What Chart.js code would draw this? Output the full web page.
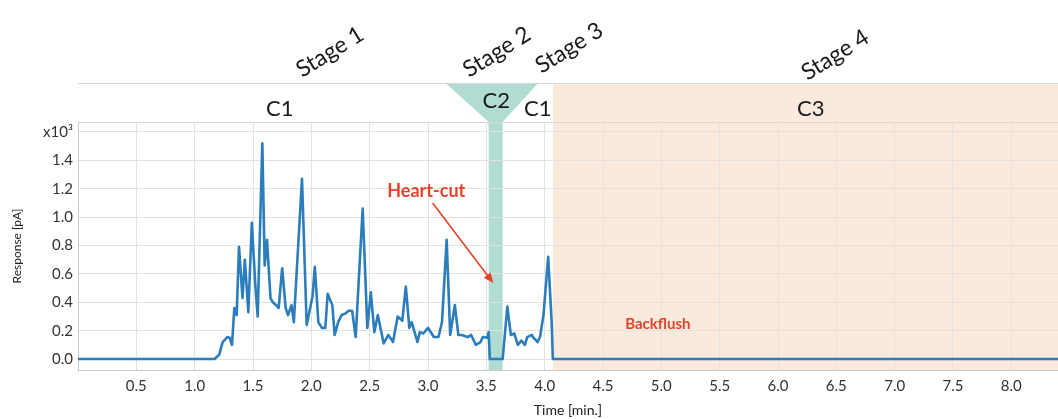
<!DOCTYPE html>
<html>
<head>
<meta charset="utf-8">
<title>Heart-cut chromatogram</title>
<script src="https://cdn.jsdelivr.net/npm/chart.js@4.4.1/dist/chart.umd.min.js"></script>
<style>
  html, body { margin: 0; padding: 0; background: #fff; }
  #wrap { width: 1058px; height: 419px; position: relative; }
</style>
</head>
<body>
<div id="wrap"><canvas id="chart"></canvas></div>
<script>
// Chromatogram: time in minutes, response in x10^3 pA
const timeMin = [
  0, 1.17, 1.21, 1.24, 1.28, 1.30, 1.32, 1.34, 1.36, 1.38,
  1.41, 1.43, 1.46, 1.49, 1.52, 1.54, 1.58, 1.60, 1.62, 1.65,
  1.67, 1.71, 1.72, 1.75, 1.78, 1.80, 1.83, 1.85, 1.92, 1.96,
  2.01, 2.03, 2.06, 2.09, 2.12, 2.14, 2.18, 2.20, 2.23, 2.26,
  2.29, 2.32, 2.35, 2.38, 2.44, 2.48, 2.51, 2.54, 2.57, 2.62,
  2.66, 2.70, 2.74, 2.78, 2.81, 2.84, 2.86, 2.91, 2.93, 2.96,
  3.00, 3.05, 3.09, 3.12, 3.16, 3.19, 3.23, 3.26, 3.29, 3.34,
  3.37, 3.41, 3.45, 3.47, 3.51, 3.52, 3.53, 3.64, 3.68, 3.71,
  3.74, 3.77, 3.80, 3.83, 3.85, 3.89, 3.90, 3.94, 3.96, 3.99,
  4.03, 4.06, 4.07, 8.40
];
const responseK = [
  0, 0, 0.03, 0.12, 0.155, 0.15, 0.10, 0.36, 0.31, 0.79,
  0.43, 0.70, 0.33, 0.96, 0.52, 0.30, 1.52, 0.66, 0.84, 0.43,
  0.40, 0.37, 0.36, 0.64, 0.36, 0.31, 0.38, 0.26, 1.27, 0.24,
  0.44, 0.65, 0.26, 0.22, 0.22, 0.46, 0.38, 0.17, 0.26, 0.31,
  0.32, 0.34, 0.34, 0.155, 1.06, 0.22, 0.47, 0.19, 0.31, 0.11,
  0.17, 0.12, 0.30, 0.27, 0.51, 0.22, 0.26, 0.12, 0.19, 0.18,
  0.22, 0.155, 0.155, 0.26, 0.84, 0.17, 0.38, 0.17, 0.17, 0.155,
  0.17, 0.10, 0.12, 0.155, 0.15, 0.19, 0, 0, 0.37, 0.17,
  0.18, 0.10, 0.13, 0.10, 0.155, 0.17, 0.155, 0.12, 0.155, 0.31,
  0.72, 0.26, 0, 0
];

// Axis ticks
const xTicks = [0.5, 1.0, 1.5, 2.0, 2.5, 3.0, 3.5, 4.0, 4.5, 5.0, 5.5, 6.0, 6.5, 7.0, 7.5, 8.0];
const yTicks = [0, 0.2, 0.4, 0.6, 0.8, 1.0, 1.2, 1.4, 1.6];
const yTickLabels = ['0.0', '0.2', '0.4', '0.6', '0.8', '1.0', '1.2', '1.4', 'x10³'];

// Stages and column labels
const stageNames = ['Stage 1', 'Stage 2', 'Stage 3', 'Stage 4'];
const columnNames = ['C1', 'C2', 'C1', 'C3'];
const heartCutWindow = [3.52, 3.64];
const backflushStart = 4.07;

const FONT = 'Lato, "Open Sans", sans-serif';
const RED = '#e4432b';
const HEADER_H = 39;

// Where the annotations sit (time, offset in px)
const layoutNotes = {
  stages: [[2.16, -70], [3.59, -70], [4.21, -74], [6.49, -67]],
  columns: [[1.73, -13], [3.585, -21], [3.94, -13], [6.28, -13]],
  funnelTop: [3.15, 3.945],
  heartCutText: [2.985, 1.18],
  arrow: [[3.04, 1.10], [3.56, 0.535]],
  backflushText: [4.97, 0.245]
};

const stagePlugin = {
  id: 'stages',
  beforeDraw(chart) {
    const { ctx, chartArea: a, scales: { x } } = chart;
    const head = a.top - HEADER_H;
    ctx.save();
    // stage 4 / backflush zone
    const bx = x.getPixelForValue(backflushStart);
    ctx.fillStyle = '#fbe9de';
    ctx.fillRect(bx, head, a.right - bx, a.bottom - head);
    // stage 2 heart-cut funnel into C2
    const l = x.getPixelForValue(heartCutWindow[0]);
    const r = x.getPixelForValue(heartCutWindow[1]);
    ctx.fillStyle = '#b0dcd3';
    ctx.beginPath();
    ctx.moveTo(x.getPixelForValue(layoutNotes.funnelTop[0]), head);
    ctx.lineTo(x.getPixelForValue(layoutNotes.funnelTop[1]), head);
    ctx.lineTo(r, a.top);
    ctx.lineTo(r, a.bottom);
    ctx.lineTo(l, a.bottom);
    ctx.lineTo(l, a.top);
    ctx.closePath();
    ctx.fill();
    // header rules
    ctx.strokeStyle = '#ddd5d2';
    ctx.lineWidth = 1;
    [head, a.top].forEach(y => {
      ctx.beginPath();
      ctx.moveTo(a.left, y + 0.5);
      ctx.lineTo(a.right, y + 0.5);
      ctx.stroke();
    });
    ctx.restore();
  },
  afterDraw(chart) {
    const { ctx, chartArea: a, scales: { x, y } } = chart;
    ctx.save();
    ctx.textAlign = 'center';
    ctx.textBaseline = 'middle';
    ctx.fillStyle = '#1a1a1a';

    // column labels in the header band
    ctx.font = '22px ' + FONT;
    columnNames.forEach((name, i) => {
      const [t, dy] = layoutNotes.columns[i];
      ctx.fillText(name, x.getPixelForValue(t), a.top + dy);
    });

    // slanted stage labels
    ctx.font = '23px ' + FONT;
    stageNames.forEach((name, i) => {
      const [t, dy] = layoutNotes.stages[i];
      ctx.save();
      ctx.translate(x.getPixelForValue(t), a.top + dy);
      ctx.rotate(-32 * Math.PI / 180);
      ctx.fillText(name, 0, 0);
      ctx.restore();
    });

    // heart-cut note and arrow
    ctx.fillStyle = RED;
    ctx.font = 'bold 18px ' + FONT;
    const [ht, hv] = layoutNotes.heartCutText;
    ctx.fillText('Heart-cut', x.getPixelForValue(ht), y.getPixelForValue(hv));

    const [[t0, v0], [t1, v1]] = layoutNotes.arrow;
    const x0 = x.getPixelForValue(t0), y0 = y.getPixelForValue(v0);
    const x1 = x.getPixelForValue(t1), y1 = y.getPixelForValue(v1);
    const ang = Math.atan2(y1 - y0, x1 - x0);
    ctx.strokeStyle = RED;
    ctx.lineWidth = 1.6;
    ctx.beginPath();
    ctx.moveTo(x0, y0);
    ctx.lineTo(x1 - 8 * Math.cos(ang), y1 - 8 * Math.sin(ang));
    ctx.stroke();
    ctx.beginPath();
    ctx.moveTo(x1, y1);
    ctx.lineTo(x1 - 11 * Math.cos(ang - 0.4), y1 - 11 * Math.sin(ang - 0.4));
    ctx.lineTo(x1 - 11 * Math.cos(ang + 0.4), y1 - 11 * Math.sin(ang + 0.4));
    ctx.closePath();
    ctx.fill();

    ctx.font = 'bold 15px ' + FONT;
    const [bt, bv] = layoutNotes.backflushText;
    ctx.fillText('Backflush', x.getPixelForValue(bt), y.getPixelForValue(bv));
    ctx.restore();
  }
};

const points = timeMin.map((t, i) => ({ x: t, y: responseK[i] }));

new Chart(document.getElementById('chart'), {
  type: 'line',
  data: {
    datasets: [{
      label: 'Response',
      data: points,
      borderColor: '#2b7dbb',
      borderWidth: 2.6,
      borderJoinStyle: 'round',
      pointRadius: 0,
      tension: 0,
      fill: false
    }]
  },
  options: {
    responsive: true,
    maintainAspectRatio: false,
    animation: false,
    layout: { padding: { top: 122, right: 0, left: 0, bottom: 0 } },
    plugins: {
      legend: { display: false },
      tooltip: { enabled: false }
    },
    scales: {
      x: {
        type: 'linear',
        min: 0,
        max: 8.4,
        afterFit(scale) { scale.height = 49; },
        afterBuildTicks(scale) { scale.ticks = xTicks.map(v => ({ value: v })); },
        ticks: {
          color: '#333',
          font: { family: FONT, size: 15 },
          padding: 7,
          maxRotation: 0,
          callback: v => v.toFixed(1)
        },
        grid: { color: '#e6e0df', drawTicks: false },
        border: { color: '#cfcaca' },
        title: {
          display: true,
          text: 'Time [min.]',
          color: '#222',
          font: { family: FONT, size: 14 },
          padding: { top: 4, bottom: 0 }
        }
      },
      y: {
        type: 'linear',
        min: -0.077,
        max: 1.67,
        afterFit(scale) { scale.width = 78; },
        afterBuildTicks(scale) { scale.ticks = yTicks.map(v => ({ value: v })); },
        ticks: {
          color: '#333',
          font: { family: FONT, size: 15 },
          padding: 5,
          callback: (v) => {
            const i = yTicks.findIndex(t => Math.abs(t - v) < 1e-6);
            return i >= 0 ? yTickLabels[i] : '';
          }
        },
        grid: { color: '#e6e0df', drawTicks: false },
        border: { color: '#cfcaca' },
        title: {
          display: true,
          text: 'Response [pA]',
          color: '#222',
          font: { family: FONT, size: 12 },
          padding: { top: 10, bottom: 0 }
        }
      }
    }
  },
  plugins: [stagePlugin]
});
</script>
</body>
</html>
